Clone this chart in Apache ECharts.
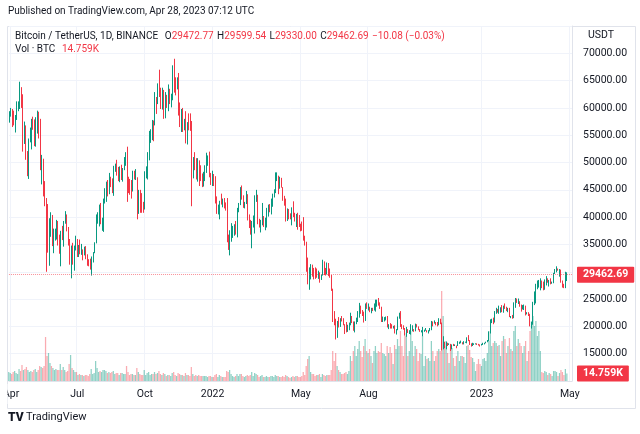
<!DOCTYPE html>
<html><head><meta charset="utf-8">
<script src="https://cdn.jsdelivr.net/npm/echarts/dist/echarts.min.js"></script>
<style>html,body{margin:0;padding:0;background:#fff}#c{width:640px;height:434px}</style>
</head><body><div id="c"></div>
<script>
// ---- data (prices in thousands of USDT, 2-day candles starting 2021-03-30) ----
const startDate = '2021-03-30';
const stepDays = 2;
const emptySlots = 3;
const firstOpen = 57.6;
const closes = [
58.8,59.0,58.2,58.0,58.1,59.8,59.8,62.9,61.3,56.2,
56.5,51.7,50.1,54.0,54.9,57.7,56.6,53.2,56.4,58.9,
55.8,49.2,49.9,46.4,42.9,40.6,37.5,38.8,39.3,35.7,
35.7,36.7,39.2,35.5,33.6,37.4,37.3,39.0,40.2,38.1,
35.5,31.7,33.7,31.6,34.7,35.9,33.5,34.7,33.7,33.9,
33.8,34.2,32.7,31.9,31.5,30.8,32.1,33.6,35.4,39.4,
40.0,41.6,39.1,39.7,42.8,43.8,45.6,44.4,47.1,46.0,
44.7,49.3,49.3,47.7,47.0,48.9,46.9,48.8,50.0,51.8,
46.9,46.4,45.2,44.9,48.1,47.3,47.3,40.7,44.9,42.7,
42.2,41.5,48.1,48.2,51.5,53.8,55.0,57.5,57.4,61.7,
61.5,64.3,62.2,61.3,63.1,58.5,62.3,61.3,63.2,61.4,
61.5,67.5,64.9,64.2,65.5,60.1,56.9,59.7,56.3,57.2,
53.7,57.3,57.0,56.5,49.2,50.6,50.5,47.1,50.1,48.4,
47.6,46.9,46.9,48.6,50.4,50.7,47.5,47.1,47.7,46.5,
43.4,41.6,41.8,42.7,42.6,43.2,42.2,41.7,36.5,36.3,
36.9,37.2,38.2,38.5,37.0,41.6,42.4,44.0,43.5,42.2,
42.5,43.9,40.0,38.4,38.3,38.3,39.1,43.2,43.9,39.1,
38.4,38.7,39.4,38.8,39.7,41.1,41.8,41.3,42.4,44.0,
44.5,47.1,47.1,46.3,46.4,45.5,43.4,42.8,39.5,41.2,
40.6,39.7,41.5,40.5,39.5,40.4,39.2,38.6,38.5,37.7,
36.6,35.5,30.1,29.1,29.3,31.3,30.4,30.3,29.4,29.1,
29.6,28.6,29.4,31.8,30.5,29.9,31.4,30.2,29.1,26.6,
22.1,20.4,19.0,20.6,20.0,21.2,21.0,20.3,19.9,19.3,
20.2,20.5,21.6,20.8,19.3,20.6,21.2,22.4,23.2,22.7,
22.6,21.2,23.8,23.3,23.3,22.8,23.3,23.2,23.2,23.9,
24.4,24.1,23.3,20.9,21.5,21.5,21.6,20.0,20.3,20.1,
19.9,20.0,18.8,19.3,21.6,22.4,20.2,19.8,19.4,18.9,
19.4,18.9,19.2,19.4,19.4,19.1,20.3,19.9,19.4,19.1,
19.2,19.2,19.3,19.3,19.0,19.2,19.3,20.8,20.6,20.6,
20.5,20.2,21.3,20.6,15.9,17.1,16.3,16.9,16.7,16.7,
15.8,16.6,16.5,16.5,16.4,17.0,17.0,17.0,16.8,17.1,
17.1,17.8,17.4,16.8,16.4,16.8,16.8,16.8,16.7,16.6,
16.5,16.7,16.9,16.9,17.1,17.4,18.8,20.9,21.2,20.7,
22.7,22.7,22.6,23.0,23.0,22.8,23.7,23.4,22.9,23.2,
21.8,21.9,21.8,24.3,24.6,24.3,24.4,23.9,23.2,23.5,
23.6,22.4,22.4,22.2,20.4,20.6,24.1,24.4,27.4,28.0,
28.2,28.3,27.5,27.1,28.4,28.5,28.2,28.2,28.0,28.0,
29.7,29.9,30.5,30.3,30.4,28.2,27.8,27.5,28.4,29.46269];
const highs = [
59.4,60.0,59.8,59.5,58.7,61.2,61.2,64.8,63.8,62.5,
57.5,56.8,52.1,54.4,56.4,58.0,58.4,57.9,58.3,59.5,
59.3,58.0,51.4,50.7,46.6,43.5,42.4,39.8,40.9,40.4,
37.9,37.9,39.5,39.3,36.8,37.5,38.4,39.3,41.1,40.5,
38.2,36.0,34.8,35.3,34.8,36.6,36.0,34.9,35.9,35.1,
34.1,34.6,34.7,33.2,32.3,32.4,32.8,33.6,35.4,40.5,
40.9,42.3,42.6,39.9,43.4,45.3,46.5,46.8,48.1,47.4,
47.1,49.4,49.8,50.5,49.2,49.3,49.6,49.0,51.0,51.9,
52.9,47.4,47.0,46.8,48.5,48.5,48.8,47.3,45.0,45.0,
44.4,42.8,48.4,49.3,51.9,55.8,56.1,57.8,57.7,62.9,
62.0,64.5,67.0,63.7,63.7,63.3,62.9,62.4,64.3,63.5,
62.6,67.8,69.0,65.6,65.6,66.4,61.0,59.8,60.0,58.0,
59.4,57.4,59.0,59.0,57.6,51.0,51.9,50.8,50.8,50.4,
49.5,48.0,48.3,49.5,51.8,51.3,52.0,48.1,48.5,47.9,
47.5,43.8,42.3,43.0,44.3,43.4,43.5,42.7,43.5,36.8,
37.6,38.9,38.4,38.7,39.3,41.7,42.6,45.5,45.8,44.0,
42.8,44.8,44.2,40.5,39.5,39.3,40.3,44.0,45.0,44.1,
39.7,39.5,42.6,40.2,39.9,41.7,42.3,42.4,43.4,44.3,
45.1,48.2,48.2,47.6,47.4,47.2,45.5,43.9,43.4,41.6,
41.5,40.7,41.8,42.9,40.8,40.6,40.8,40.4,38.8,39.2,
40.0,36.6,35.5,32.6,30.8,31.4,31.3,30.7,30.8,30.6,
30.2,29.9,29.5,32.2,31.9,30.7,31.7,31.6,30.6,29.4,
26.9,22.8,21.4,21.0,21.7,21.5,21.9,21.5,20.4,20.8,
20.3,20.7,22.5,21.9,20.9,20.9,21.6,22.8,24.3,23.8,
23.0,22.7,24.2,24.4,24.2,23.6,23.4,23.4,24.2,24.9,
24.9,25.2,24.4,23.6,21.8,21.7,21.8,21.9,20.4,20.6,
20.4,20.1,20.2,19.5,21.8,22.5,22.8,20.4,20.2,19.7,
19.9,19.5,19.3,20.4,20.2,19.5,20.5,20.4,20.0,19.5,
19.3,19.9,19.4,19.7,19.3,19.3,19.7,21.0,20.9,21.1,
20.8,20.8,21.5,21.4,20.7,18.2,17.2,17.2,17.0,16.9,
16.8,16.7,16.8,16.7,16.5,17.3,17.2,17.4,17.1,17.3,
17.2,18.0,18.4,17.5,16.9,17.0,16.9,16.9,16.9,16.8,
16.7,16.8,17.0,17.0,17.2,17.5,19.1,21.3,21.4,21.6,
22.8,23.4,23.2,23.8,23.5,23.9,23.8,24.2,23.6,23.4,
23.4,21.9,22.1,24.4,25.2,25.1,25.1,24.6,24.0,23.9,
24.0,23.8,22.6,22.6,22.3,20.8,24.5,26.4,27.8,28.4,
28.5,28.8,28.4,28.2,28.6,29.2,28.8,28.5,28.8,28.2,
29.8,30.5,31.0,30.6,30.5,30.4,28.4,27.8,30.0,29.9];
const lows = [
57.3,58.4,56.5,56.8,55.5,57.8,59.4,59.8,60.0,52.0,
53.4,50.5,47.5,47.0,53.7,52.4,56.0,53.0,52.9,55.3,
54.4,48.6,46.0,43.8,42.0,30.0,33.5,31.1,36.4,34.7,
33.4,35.7,35.9,34.8,33.3,31.0,35.8,34.6,38.8,37.4,
34.8,31.3,28.8,31.3,30.2,33.9,32.7,32.7,33.2,33.1,
32.1,33.0,32.3,31.1,31.0,30.4,29.3,31.7,33.4,35.2,
38.8,38.3,38.7,37.5,37.3,42.5,42.8,43.8,44.2,45.5,
44.4,43.9,48.3,47.6,46.6,46.4,46.8,46.5,48.6,49.4,
42.8,44.4,44.1,43.4,44.7,46.9,46.8,39.6,40.6,40.8,
40.8,40.8,41.4,47.1,46.9,50.4,53.6,54.1,53.9,56.8,
58.9,60.7,62.0,59.8,59.7,58.0,58.1,60.0,59.4,60.7,
60.1,61.4,62.8,62.3,63.4,58.6,56.5,55.6,55.6,55.9,
53.5,53.3,55.9,55.8,42.0,47.1,48.6,46.9,46.5,45.7,
46.6,45.5,45.6,46.6,48.1,49.4,47.3,45.9,45.7,45.7,
42.5,40.6,40.5,39.6,42.3,41.8,41.6,41.2,35.4,34.0,
33.0,35.5,36.2,36.6,36.8,36.3,40.9,42.2,43.2,41.7,
41.6,42.4,39.4,38.0,36.8,34.3,38.1,37.0,42.8,38.7,
38.1,37.2,38.5,38.2,37.6,38.1,40.1,40.9,40.5,41.9,
43.6,44.4,46.6,44.2,45.2,45.4,43.0,42.1,39.2,39.3,
39.6,39.6,38.5,40.0,39.2,38.2,37.7,38.2,37.4,37.5,
35.7,34.8,30.0,27.7,26.7,28.6,29.1,28.6,28.7,28.9,
28.7,28.0,28.5,29.3,29.4,29.3,29.5,29.2,28.9,26.5,
20.8,20.2,17.6,17.9,19.8,19.9,20.9,20.2,18.6,18.9,
19.0,19.3,20.2,20.6,19.2,18.9,20.4,20.8,21.6,22.3,
21.9,20.7,21.0,23.2,22.9,22.6,22.4,22.8,22.9,22.7,
23.6,23.8,23.2,20.8,20.8,20.9,21.1,19.8,19.5,19.6,
19.6,19.6,18.7,18.5,19.3,21.4,19.9,19.5,19.4,18.3,
18.1,18.8,18.6,18.5,19.1,19.0,19.1,19.8,19.3,19.0,
18.9,18.2,19.0,19.2,18.9,18.7,19.1,19.3,20.0,20.5,
20.2,20.0,20.2,20.4,15.6,15.8,16.0,15.8,16.4,16.6,
15.5,15.8,16.4,16.4,16.0,16.4,16.8,16.9,16.7,16.7,
17.0,16.9,17.3,16.6,16.3,16.4,16.6,16.7,16.6,16.5,
16.3,16.5,16.6,16.7,16.9,17.1,17.3,18.7,20.6,20.4,
20.7,22.3,22.5,22.3,22.5,22.6,22.5,23.2,22.8,22.6,
21.7,21.5,21.4,21.5,23.4,24.3,24.1,23.6,22.7,23.1,
23.0,22.0,22.2,21.9,20.0,19.6,20.3,23.9,24.2,26.8,
27.1,26.6,27.0,26.6,26.7,27.5,28.0,27.3,27.7,27.8,
27.9,29.6,29.9,30.2,29.1,28.0,27.1,27.0,27.0,28.3];
// volume in thousands of BTC
const volumes = [
18,16,14,18,20,16,14,24,20,32,
22,24,28,22,18,20,18,22,24,18,
22,30,28,26,30,88,50,56,36,30,
26,22,24,22,22,34,22,28,22,18,
20,34,52,26,22,18,18,12,14,12,
12,10,12,12,10,14,24,14,16,40,
26,18,20,18,22,22,20,16,18,16,
18,20,14,16,16,12,16,16,14,14,
30,18,12,14,14,12,12,26,18,14,
12,12,22,12,16,18,12,14,14,18,
14,16,20,14,12,16,14,10,12,12,
10,16,18,12,10,16,14,12,12,10,
16,12,12,10,28,14,10,12,10,12,
10,10,10,10,10,8,10,10,8,8,
12,14,8,12,10,8,8,8,20,18,
22,14,10,8,10,14,10,14,14,10,
8,10,12,10,12,18,10,16,14,12,
8,10,12,8,8,10,8,8,10,10,
8,12,10,10,8,8,10,8,12,10,
8,6,8,10,8,10,10,8,8,10,
18,12,30,44,50,18,14,14,10,12,
12,14,8,14,12,10,12,12,12,22,
60,40,56,30,22,18,14,14,16,18,
14,20,50,40,60,70,50,64,80,60,
48,70,84,60,56,64,50,36,60,70,
56,60,58,76,56,54,50,70,56,68,
56,34,72,64,84,70,100,70,50,90,
96,50,60,100,80,50,70,64,40,56,
54,90,30,50,44,46,40,80,60,40,
50,60,64,60,180,130,70,80,56,36,
64,66,46,30,50,60,40,50,50,48,
36,70,72,62,48,46,38,20,34,44,
34,30,44,46,40,56,80,100,70,76,
80,76,70,72,50,80,90,84,56,70,
86,64,60,100,110,70,84,76,70,56,
70,80,40,60,100,120,130,110,120,90,
100,60,18,16,20,18,12,16,14,10,
20,20,18,10,16,22,18,12,24,14.759];
const tickDates = ['2021-04-01','2021-07-01','2021-10-01','2022-01-01','2022-05-01','2022-08-01','2023-01-01','2023-05-01'];
const tickLabels = ['Apr','Jul','Oct','2022','May','Aug','2023','May'];
const hiddenPriceLabels = [10000, 30000, 75000];
const lastPrice = 29462.69;
const lastVolume = 14.759;
const lastVolumeText = '14.759K';
const headerValues = ['29472.77','29599.54','29330.00','29462.69'];
const headerChange = '\u221210.08 (\u22120.03%)';

// ---- build ----
const F = 'Roboto, "Noto Sans", sans-serif';
const UP = '#089981', DOWN = '#f23645';
const DAY = 86400000;
const t0 = Date.parse(startDate + 'T00:00:00Z');
const cats = [];
for (let i = 0; i < closes.length + emptySlots; i++) {
  cats.push(new Date(t0 + i * stepDays * DAY).toISOString().slice(0, 10));
}
const tickMap = {};
tickDates.forEach((d, k) => {
  const idx = Math.floor((Date.parse(d + 'T00:00:00Z') - t0) / (stepDays * DAY));
  tickMap[idx] = tickLabels[k];
});
const isTick = (i) => tickMap[i] !== undefined;
const candles = closes.map((c, i) => {
  const o = i === 0 ? firstOpen : closes[i - 1];
  return [o * 1000, c * 1000, lows[i] * 1000, highs[i] * 1000];
});
const volData = volumes.map((v, i) => ({
  value: v,
  itemStyle: { color: candles[i][1] >= candles[i][0] ? 'rgba(8,153,129,0.45)' : 'rgba(242,54,69,0.42)' }
}));
const tagLabel = (txt) => ({ show: true, position: 'end', distance: 5, formatter: () => txt,
  backgroundColor: DOWN, color: '#fff', fontSize: 10.5, fontWeight: 'bold', fontFamily: F, padding: [3, 6, 2, 6], borderRadius: 1 });

const chart = echarts.init(document.getElementById('c'), null, { renderer: 'canvas' });
chart.setOption({
  animation: false,
  backgroundColor: '#fff',
  textStyle: { fontFamily: F },
  grid: [
    { left: 8, right: 68, top: 26, height: 355 },
    { left: 8, right: 68, top: 261, height: 120 }
  ],
  xAxis: [
    { type: 'category', gridIndex: 0, data: cats, boundaryGap: true,
      axisLine: { show: true, lineStyle: { color: '#e0e3eb' } },
      axisTick: { show: false },
      axisLabel: { interval: (i) => isTick(i), formatter: (v, i) => tickMap[i] || '', color: '#131722', fontSize: 10.5, fontFamily: F, margin: 8 },
      splitLine: { show: true, interval: (i) => isTick(i), lineStyle: { color: '#f0f3fa', width: 1 } } },
    { type: 'category', gridIndex: 1, data: cats, boundaryGap: true, show: false }
  ],
  yAxis: [
    { type: 'value', gridIndex: 0, position: 'right', min: 10000, max: 75000, interval: 5000, scale: false,
      axisLine: { show: true, lineStyle: { color: '#e0e3eb' } },
      axisTick: { show: false },
      axisLabel: { color: '#131722', fontSize: 10.5, fontFamily: F, margin: 11, align: 'left',
        formatter: (v) => hiddenPriceLabels.includes(v) ? '' : v.toFixed(2) },
      splitLine: { show: true, lineStyle: { color: '#f0f3fa', width: 1 } } },
    { type: 'value', gridIndex: 1, min: 0, max: 240, show: false }
  ],
  series: [
    { type: 'candlestick', xAxisIndex: 0, yAxisIndex: 0, data: candles, barWidth: 1,
      itemStyle: { color: UP, color0: DOWN, borderColor: UP, borderColor0: DOWN, borderWidth: 1 },
      markLine: { silent: true, symbol: 'none', animation: false,
        data: [{ yAxis: lastPrice }],
        lineStyle: { color: 'rgba(242,54,69,0.55)', type: 'dotted', width: 1 },
        label: tagLabel(lastPrice.toFixed(2)) },
      z: 3 },
    { type: 'bar', xAxisIndex: 1, yAxisIndex: 1, data: volData, barCategoryGap: '15%', z: 2,
      markLine: { silent: true, symbol: 'none', animation: false,
        data: [{ yAxis: lastVolume }],
        lineStyle: { color: 'rgba(0,0,0,0)', width: 0 },
        label: tagLabel(lastVolumeText) } }
  ],
  graphic: [
    { type: 'rect', shape: { x: 7.5, y: 26.5, width: 628, height: 382 }, style: { fill: 'none', stroke: '#e0e3eb', lineWidth: 1 }, z: 0, silent: true },
    { type: 'rect', shape: { x: 0, y: 384, width: 7.5, height: 20 }, style: { fill: '#fff' }, z: 100, silent: true },
    { type: 'text', left: 8, top: 6, style: { text: 'Published on TradingView.com, Apr 28, 2023 07:12 UTC', fill: '#131722', font: '10px ' + F }, z: 100 },
    { type: 'text', left: 15, top: 30, z: 100, style: {
        text: '{d|Bitcoin / TetherUS, 1D, BINANCE}  {d|O}{r|' + headerValues[0] + '} {d|H}{r|' + headerValues[1] + '} {d|L}{r|' + headerValues[2] + '} {d|C}{r|' + headerValues[3] + '} {r|' + headerChange + '}',
        rich: { d: { fill: '#131722', fontSize: 10, fontFamily: F }, r: { fill: DOWN, fontSize: 10, fontFamily: F } } } },
    { type: 'text', left: 15, top: 43, z: 100, style: {
        text: '{d|Vol \u00b7 BTC}  {r|' + lastVolumeText + '}',
        rich: { d: { fill: '#131722', fontSize: 10, fontFamily: F }, r: { fill: DOWN, fontSize: 10, fontFamily: F } } } },
    { type: 'text', left: 588, top: 30, z: 100, style: { text: 'USDT', fill: '#131722', font: '10.5px ' + F } },
    { type: 'text', left: 8, top: 412, z: 100, style: { text: 'TV', fill: '#131722', font: '900 12px ' + F } },
    { type: 'text', left: 26, top: 412, z: 100, style: { text: 'TradingView', fill: '#131722', font: '11px ' + F } }
  ]
});
</script>
</body></html>
